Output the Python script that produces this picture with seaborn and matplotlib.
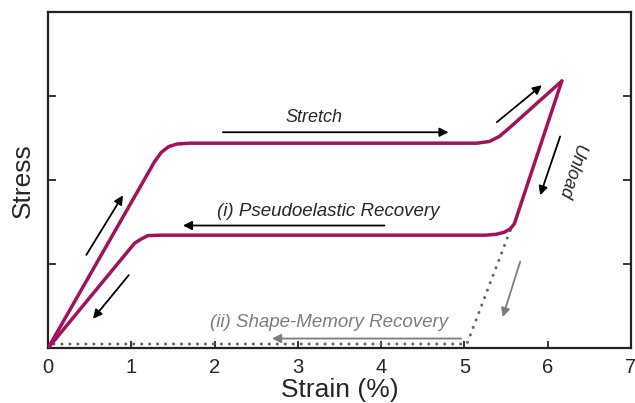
import matplotlib
matplotlib.use("Agg")
import matplotlib.pyplot as plt
import seaborn as sns
import pandas as pd

# loading branch (0 -> peak)
load_strain = [0, 1.28, 1.36, 1.45, 1.55, 1.70, 5.15, 5.30, 5.42, 5.55, 6.17]
load_stress = [0, 2.22, 2.33, 2.40, 2.43, 2.44, 2.44, 2.46, 2.52, 2.63, 3.18]

# unloading branch (peak -> 0), pseudoelastic
unload_strain = [6.17, 5.60, 5.55, 5.48, 5.38, 5.25, 1.35, 1.20, 1.12, 1.04, 0]
unload_stress = [3.18, 1.48, 1.42, 1.38, 1.355, 1.345, 1.345, 1.34, 1.30, 1.25, 0]

# shape-memory path (dotted)
sm_strain = [5.55, 5.03, 0]
sm_stress = [1.40, 0.05, 0.05]

xticks = [0, 1, 2, 3, 4, 5, 6, 7]
yticks = [0, 1, 2, 3]

line_col = "#a3125a"
grey = "#7d7d7d"

sns.set_style("ticks")
plt.rcParams['font.family'] = ['Liberation Sans', 'DejaVu Sans']

fig = plt.figure(figsize=(6.35, 4.03), dpi=100)
ax = fig.add_axes([0.0756, 0.136, 0.918, 0.834])

load = pd.DataFrame({"strain": load_strain, "stress": load_stress})
unload = pd.DataFrame({"strain": unload_strain, "stress": unload_stress})
sm = pd.DataFrame({"strain": sm_strain, "stress": sm_stress})

sns.lineplot(data=sm, x="strain", y="stress", sort=False, estimator=None, ax=ax,
             color="#666666", lw=2.2, linestyle=(0, (0.01, 2.6)),
             dash_capstyle="round", zorder=2)
sns.lineplot(data=load, x="strain", y="stress", sort=False, estimator=None, ax=ax,
             color=line_col, lw=2.5, zorder=3)
sns.lineplot(data=unload, x="strain", y="stress", sort=False, estimator=None, ax=ax,
             color=line_col, lw=2.5, zorder=3)

def arrow(x0, y0, x1, y1, c="black"):
    ax.annotate("", xy=(x1, y1), xytext=(x0, y0),
                arrowprops=dict(arrowstyle="-|>", color=c, lw=1.3, mutation_scale=13,
                                shrinkA=0, shrinkB=0))

arrow(2.10, 2.57, 4.81, 2.57)
arrow(5.39, 2.69, 5.93, 3.13)
arrow(6.15, 2.52, 5.91, 1.82)
arrow(0.46, 1.11, 0.90, 1.82)
arrow(0.97, 0.87, 0.54, 0.35)
arrow(4.04, 1.46, 1.62, 1.46)
arrow(5.67, 1.03, 5.46, 0.37, c=grey)
arrow(4.96, 0.115, 2.69, 0.115, c=grey)

ax.text(3.19, 2.75, "Stretch", style="italic", fontsize=13, ha="center", va="center")
ax.text(3.37, 1.63, "(i) Pseudoelastic Recovery", style="italic", fontsize=13.5,
        ha="center", va="center")
ax.text(3.38, 0.30, "(ii) Shape-Memory Recovery", style="italic", fontsize=13.5,
        ha="center", va="center", color=grey)
ax.text(6.28, 2.10, "Unload", style="italic", fontsize=13, ha="center", va="center",
        rotation=252, rotation_mode="anchor")

ax.set_xlim(0, 7)
ax.set_ylim(0, 4)
ax.set_xticks(xticks)
ax.set_yticks(yticks)
ax.set_yticklabels([])
ax.tick_params(axis="x", direction="in", length=5, width=1.3, labelsize=14.5, pad=7)
ax.tick_params(axis="y", direction="in", length=6, width=1.3, right=True, left=True)
for s in ax.spines.values():
    s.set_linewidth(1.6)
    s.set_color("#222222")
    s.set_visible(True)

ax.set_xlabel("Strain (%)", fontsize=19, labelpad=1)
ax.set_ylabel("Stress", fontsize=19, labelpad=6)

fig.savefig("out.png", dpi=100)
